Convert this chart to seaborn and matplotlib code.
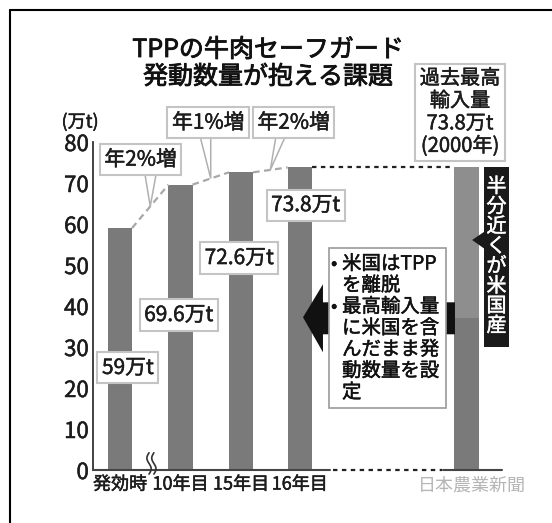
import numpy as np
import seaborn as sns
import matplotlib.pyplot as plt
import matplotlib.patheffects as pe
from matplotlib.patches import Polygon, Rectangle
from matplotlib.lines import Line2D

periods = ["発効時", "10年目", "15年目", "16年目"]
trigger_volumes = [59.0, 69.6, 72.6, 73.8]          # 発動数量 (万t)
value_labels = ["59万t", "69.6万t", "72.6万t", "73.8万t"]
growth_labels = ["年2%増", "年1%増", "年2%増"]
record_volume = 73.8                                  # 過去最高輸入量 (2000年)
record_us_part = 37.0                                 # うち米国産 (approx.)
record_label = "過去最高\n輸入量\n73.8万t\n(2000年)"
us_label = "半分近くが米国産"
note_lines = ["米国はTPP", "を離脱", "最高輸入量", "に米国を含",
              "んだまま発", "動数量を設", "定"]
note_bullets = [0, 2]
y_ticks = [0, 10, 20, 30, 40, 50, 60, 70, 80]

# --- layout ---
bar_pos = [0, 1, 2, 2.97]
record_pos = 5.73
bar_w = 0.41
dark = "#7a7a7a"
light = "#8e8e8e"
ink = "#1c1c1c"

sns.set_style("white")
plt.rcParams["font.family"] = ["Noto Sans CJK JP", "DejaVu Sans"]


def heavy(color=ink, w=0.35):
    # newspaper type is a touch heavier than Noto Regular
    return [pe.withStroke(linewidth=w, foreground=color)]


fig = plt.figure(figsize=(5.52, 5.23), dpi=100)
ax = fig.add_axes([93 / 552, 53 / 523, 409 / 552, 328 / 523])

sns.barplot(x=bar_pos, y=trigger_volumes, native_scale=True, width=bar_w,
            color=dark, saturation=1, errorbar=None, linewidth=0, ax=ax, zorder=2)
sns.barplot(x=[record_pos], y=[record_volume], native_scale=True, width=bar_w,
            color=light, saturation=1, errorbar=None, linewidth=0, ax=ax, zorder=2)
sns.barplot(x=[record_pos], y=[record_us_part], native_scale=True, width=bar_w,
            color=dark, saturation=1, errorbar=None, linewidth=0, ax=ax, zorder=2)

ax.set_xlim(-0.446, 6.314)
ax.set_ylim(0, 80)
ax.set_xlabel("")
ax.set_ylabel("")
for s in ["top", "right", "bottom"]:
    ax.spines[s].set_visible(False)
ax.spines["left"].set_color("#333333")
ax.spines["left"].set_linewidth(1.3)

ax.set_yticks(y_ticks)
ax.set_yticklabels([str(t) for t in y_ticks], fontsize=16, color=ink)
ax.tick_params(axis="y", direction="in", length=6, width=1.2, color="#333333", pad=3)
ax.set_xticks(bar_pos)
ax.set_xticklabels(periods, fontsize=13, color=ink)
ax.tick_params(axis="x", length=0, pad=4)
for lab in ax.get_yticklabels() + ax.get_xticklabels():
    lab.set_path_effects(heavy())

# broken baseline: solid / dotted / solid
half = bar_w * 0.97 / 2
ax.plot([-0.446, 3.47], [0, 0], color="#444444", lw=1.5, clip_on=False, zorder=3)
ax.plot([3.52, 5.32], [0, 0], color="#222222", lw=1.6, ls=(0, (2, 2)), clip_on=False, zorder=3)
ax.plot([5.34, 6.314], [0, 0], color="#444444", lw=1.5, clip_on=False, zorder=3)

# dotted line from 16年目 to record bar
ax.plot([bar_pos[3] + half, record_pos - bar_w / 2], [record_volume] * 2,
        color="#222222", lw=1.6, ls=(0, (2, 2)), zorder=3)

# wavy break marks
t = np.linspace(0, 1, 60)
for xc in [0.48, 0.56]:
    ax.plot(xc + 0.035 * np.sin(2 * np.pi * t), -1.0 + 5.2 * t,
            color="#333333", lw=1.2, clip_on=False, zorder=4)

# grey dashed links between bar tops
mids = []
for i in range(3):
    x0, x1 = bar_pos[i] + half, bar_pos[i + 1] - half
    y0, y1 = trigger_volumes[i], trigger_volumes[i + 1]
    ax.plot([x0, x1], [y0, y1], color="#a8a8a8", lw=1.6, ls=(0, (3, 2)), zorder=3)
    mids.append(((x0 + x1) / 2, (y0 + y1) / 2))

box_kw = dict(boxstyle="square,pad=0.22", fc="white", ec="#c4c4c4", lw=1.5)

# growth callouts with tails
growth_xy = [(0.34, 75.7), (1.46, 84.7), (2.87, 84.7)]
tail_base = [(0.41, 0.60, 72.4), (1.32, 1.50, 81.6), (2.58, 2.74, 81.6)]
for lab, (gx, gy), (bx0, bx1, by), (mx, my) in zip(growth_labels, growth_xy, tail_base, mids):
    ax.add_patch(Polygon([(bx0, by), (mx, my), (bx1, by)], closed=False,
                         fc="white", ec="#b0b0b0", lw=1.1, zorder=5, clip_on=False))
    ax.text(gx, gy, lab, ha="center", va="center", fontsize=15, color=ink,
            bbox=box_kw, zorder=6, clip_on=False, path_effects=heavy())

# value labels
label_xy = [(0.13, 24.9), (0.97, 37.8), (1.97, 51.7), (3.07, 64.6)]
for lab, (lx, ly) in zip(value_labels, label_xy):
    ax.text(lx, ly, lab, ha="center", va="center", fontsize=15, color=ink,
            bbox=box_kw, zorder=6, path_effects=heavy())

# record import box
ax.text(5.62, 87.2, record_label, ha="center", va="center", fontsize=14.5,
        color=ink, linespacing=1.1, bbox=box_kw, zorder=6, clip_on=False,
        path_effects=heavy())

# black arrow behind the note box
ax.add_patch(Polygon([(3.025, 37.25), (3.355, 45.3), (3.355, 40.9), (5.537, 40.9),
                      (5.537, 33.1), (3.355, 33.1), (3.355, 28.7)],
                     closed=True, fc="#111111", ec="none", zorder=4))
ax.add_patch(Rectangle((3.455, 15.2), 1.935, 39.0, fc="white", ec="#9a9a9a",
                       lw=1.2, zorder=5))
for i, line in enumerate(note_lines):
    py = 265 + 21.3 * i
    yy = (470 - py) / 4.08
    ax.text(3.67, yy, line, ha="left", va="center", fontsize=14, color="#111111",
            zorder=6, path_effects=heavy("#111111"))
    if i in note_bullets:
        ax.text(3.54, yy, "•", ha="center", va="center", fontsize=13,
                color="#111111", zorder=6, path_effects=heavy("#111111"))

# vertical "US origin" tag
ax.add_patch(Polygon([(5.82, 56.1), (6.03, 58.2), (6.03, 53.9)], closed=True,
                     fc="#1a1a1a", ec="none", zorder=5, clip_on=False))
ax.add_patch(Rectangle((6.017, 30.1), 0.413, 43.9, fc="#1a1a1a", ec="none",
                       zorder=5, clip_on=False))
ax.text(6.223, 52.05, "\n".join(us_label), ha="center", va="center", fontsize=14.5,
        color="white", linespacing=0.93, zorder=6, clip_on=False,
        path_effects=heavy("white", 0.3))

# unit, source
ax.text(-0.66, 84.8, "(万t)", ha="center", va="center", fontsize=13,
        color=ink, clip_on=False, path_effects=heavy())
ax.text(5.82, -3.8, "日本農業新聞", ha="center", va="center", fontsize=13,
        color="#b5b5b5", clip_on=False)

# title
for yy, line in [(50, "TPPの牛肉セーフガード"), (77, "発動数量が抱える課題")]:
    fig.text(268 / 552, 1 - yy / 523, line, ha="center", va="center",
             fontsize=18, color="#111111", path_effects=heavy("#111111", 0.6))

# frame (top and left edges as in the clipping)
fig.add_artist(Line2D([10 / 552, 1], [1 - 10 / 523] * 2, color="black", lw=1.5,
                      transform=fig.transFigure))
fig.add_artist(Line2D([10 / 552] * 2, [0, 1 - 10 / 523], color="black", lw=1.5,
                      transform=fig.transFigure))

fig.savefig("out.png", dpi=100)
